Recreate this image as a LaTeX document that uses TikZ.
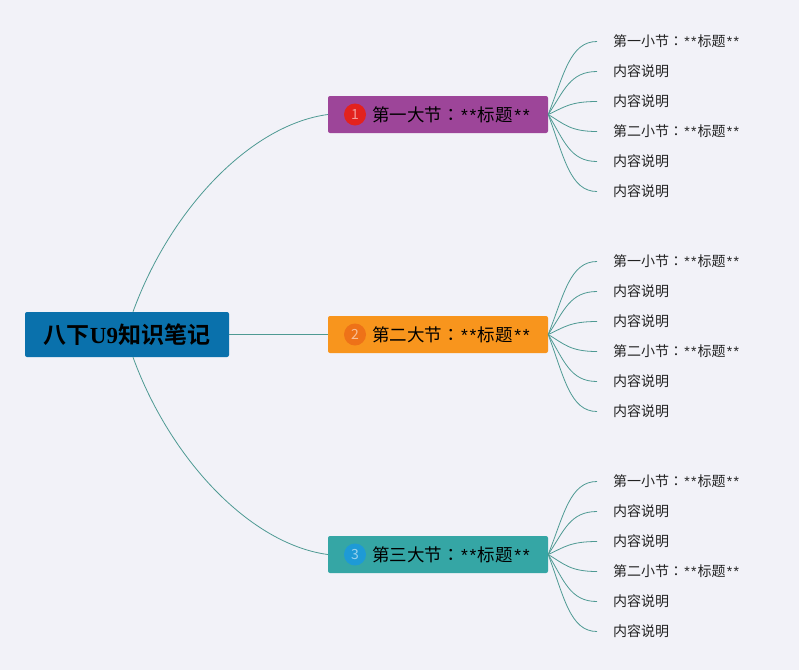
\documentclass[tikz,border=0pt]{standalone}
\usepackage{fontspec}
\setmainfont{Noto Sans CJK SC}[BoldFont={Noto Sans CJK SC Bold}]
\newfontfamily\colonfont{Noto Sans CJK TC}
\newfontfamily\latinserif{Liberation Serif}
\newfontfamily\astfont{Liberation Sans}
\newcommand{\fwcolon}{{\colonfont ：}}
\newcommand{\stars}{{\astfont\kern0.08em*\kern0.1em*\kern0.08em}}
\definecolor{bg}{HTML}{F2F2F8}
\definecolor{rootblue}{HTML}{0A71AC}
\definecolor{secA}{HTML}{9D4599}
\definecolor{secB}{HTML}{F8951D}
\definecolor{secC}{HTML}{35A6A5}
\definecolor{badA}{HTML}{E3221E}
\definecolor{badB}{HTML}{EE7218}
\definecolor{badC}{HTML}{1E9AD6}
\definecolor{linec}{HTML}{4E9A93}
\definecolor{leaftext}{HTML}{222222}
\tikzset{
  conn/.style={draw=linec, line width=0.8pt},
  rootbox/.style={fill=rootblue, rounded corners=2pt, minimum width=204pt, minimum height=45pt, inner sep=0pt, font=\bfseries\fontsize{23}{25}\selectfont, text=black},
  secbox/.style={rounded corners=2pt, minimum width=220pt, minimum height=37pt, inner sep=0pt},
  badge/.style={circle, minimum size=22pt, inner sep=0pt, text=white, text opacity=0.55, font=\fontsize{14}{14}\selectfont},
  sectext/.style={anchor=west, inner sep=0pt, font=\fontsize{17.5}{18}\selectfont, text=black},
  leaf/.style={anchor=west, inner sep=0pt, font=\fontsize{14}{15}\selectfont, text=leaftext}
}
\begin{document}
\begin{tikzpicture}[x=1pt,y=-1pt]
\fill[bg] (0,0) rectangle (799,670);
\useasboundingbox (0,0) rectangle (799,670);
\node[rootbox] (root) at (127,334.5) {八下{\latinserif\bfseries U9}知识笔记};
\foreach \i/\y/\col/\bcol/\name in {1/114.5/secA/badA/第一大节, 2/334.5/secB/badB/第二大节, 3/554.5/secC/badC/第三大节}{
  \node[secbox, fill=\col] (s\i) at (438,\y) {};
  \node[badge, fill=\bcol] (b\i) at (355,\y) {\i};
  \node[sectext] (t\i) at (372,\y) {\name\fwcolon\stars 标题\stars};
  \foreach \k/\txt in {0/第一小节\fwcolon\stars 标题\stars, 1/内容说明, 2/内容说明, 3/第二小节\fwcolon\stars 标题\stars, 4/内容说明, 5/内容说明}{
    \pgfmathsetmacro{\ly}{\y+2+(\k-2.5)*30}
    \node[leaf] (l\i\k) at (613,\ly) {\txt};
    \coordinate (e\i\k) at (597,\ly);
    \pgfmathsetmacro{\cy}{\y+0.55*(\ly-\y)}
    \draw[conn] (s\i.east) .. controls (564,\cy) and (570,\ly) .. (e\i\k);
  }
}
\draw[conn] ([xshift=6pt]root.north) .. controls (170,210) and (250,125) .. (s1.west);
\draw[conn] ([xshift=6pt]root.south) .. controls (170,459) and (250,544) .. (s3.west);
\draw[conn] (root.east) -- (s2.west);
\end{tikzpicture}
\end{document}
